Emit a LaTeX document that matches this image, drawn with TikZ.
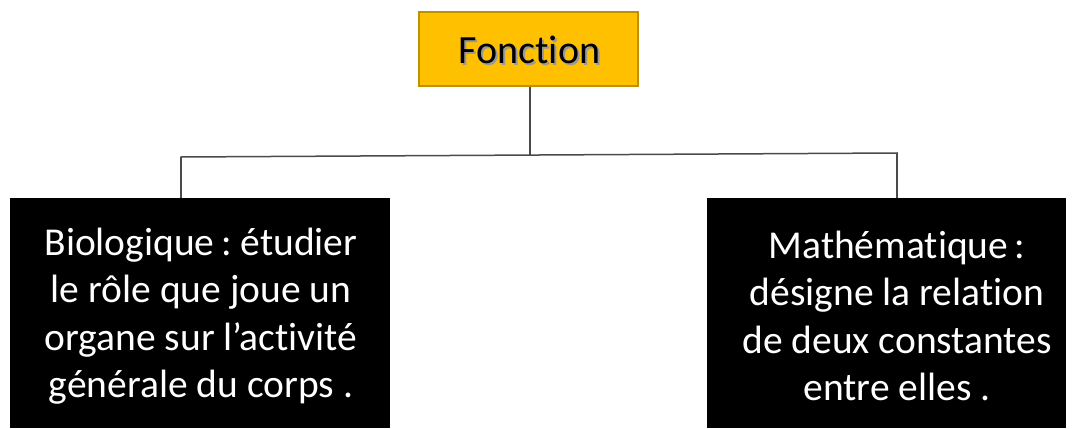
\documentclass[tikz,border=0pt]{standalone}
\usepackage{fontspec}
\setmainfont[RawFeature={-liga}]{Carlito}
\definecolor{gold}{HTML}{FFC000}
\definecolor{golddark}{HTML}{BF9000}
\definecolor{conn}{HTML}{4A4A4A}
\frenchspacing
\begin{document}
\begin{tikzpicture}[x=1pt,y=-1pt,
  topbox/.style={draw=golddark,line width=1.2pt,fill=gold,minimum width=219pt,minimum height=74pt,inner sep=0pt},
  blackbox/.style={fill=black,draw=none,inner sep=0pt},
  bodytext/.style={text=white,align=center,font=\fontsize{39.5}{47.5}\selectfont,inner sep=0pt},
  conline/.style={draw=conn,line width=1.5pt}]
\useasboundingbox (0,0) rectangle (1075,428);
\fill[white] (0,0) rectangle (1075,428);
\node[topbox] (top) at (528.5,49) {};
\node[text=black!40,font=\fontsize{40}{47}\selectfont,inner sep=0pt] (topshadow) at (531.5,52) {Fonction};
\node[text=black,font=\fontsize{40}{47}\selectfont,inner sep=0pt] (toptext) at (529.5,50) {Fonction};
\node[blackbox,minimum width=380pt,minimum height=230pt,anchor=north west] (left) at (10,198) {};
\node[blackbox,minimum width=359pt,minimum height=230pt,anchor=north west] (right) at (707,198) {};
\node[bodytext] (lefttext) at (201,316) {Biologique\,: étudier\\le rôle que joue un\\organe sur l’activité\\générale du corps .};
\node[bodytext] (righttext) at (897,316) {Mathématique\,:\\désigne la relation\\de deux constantes\\entre elles .};
\coordinate (jm) at (530,155);
\coordinate (jl) at (181,157);
\coordinate (jr) at (897,153);
\draw[conline] (top.south -| jm) -- (jm);
\draw[conline,line cap=rect] (jl) -- (jr);
\draw[conline] (jl) -- (jl |- left.north);
\draw[conline] (jr) -- (jr |- right.north);
\end{tikzpicture}
\end{document}
